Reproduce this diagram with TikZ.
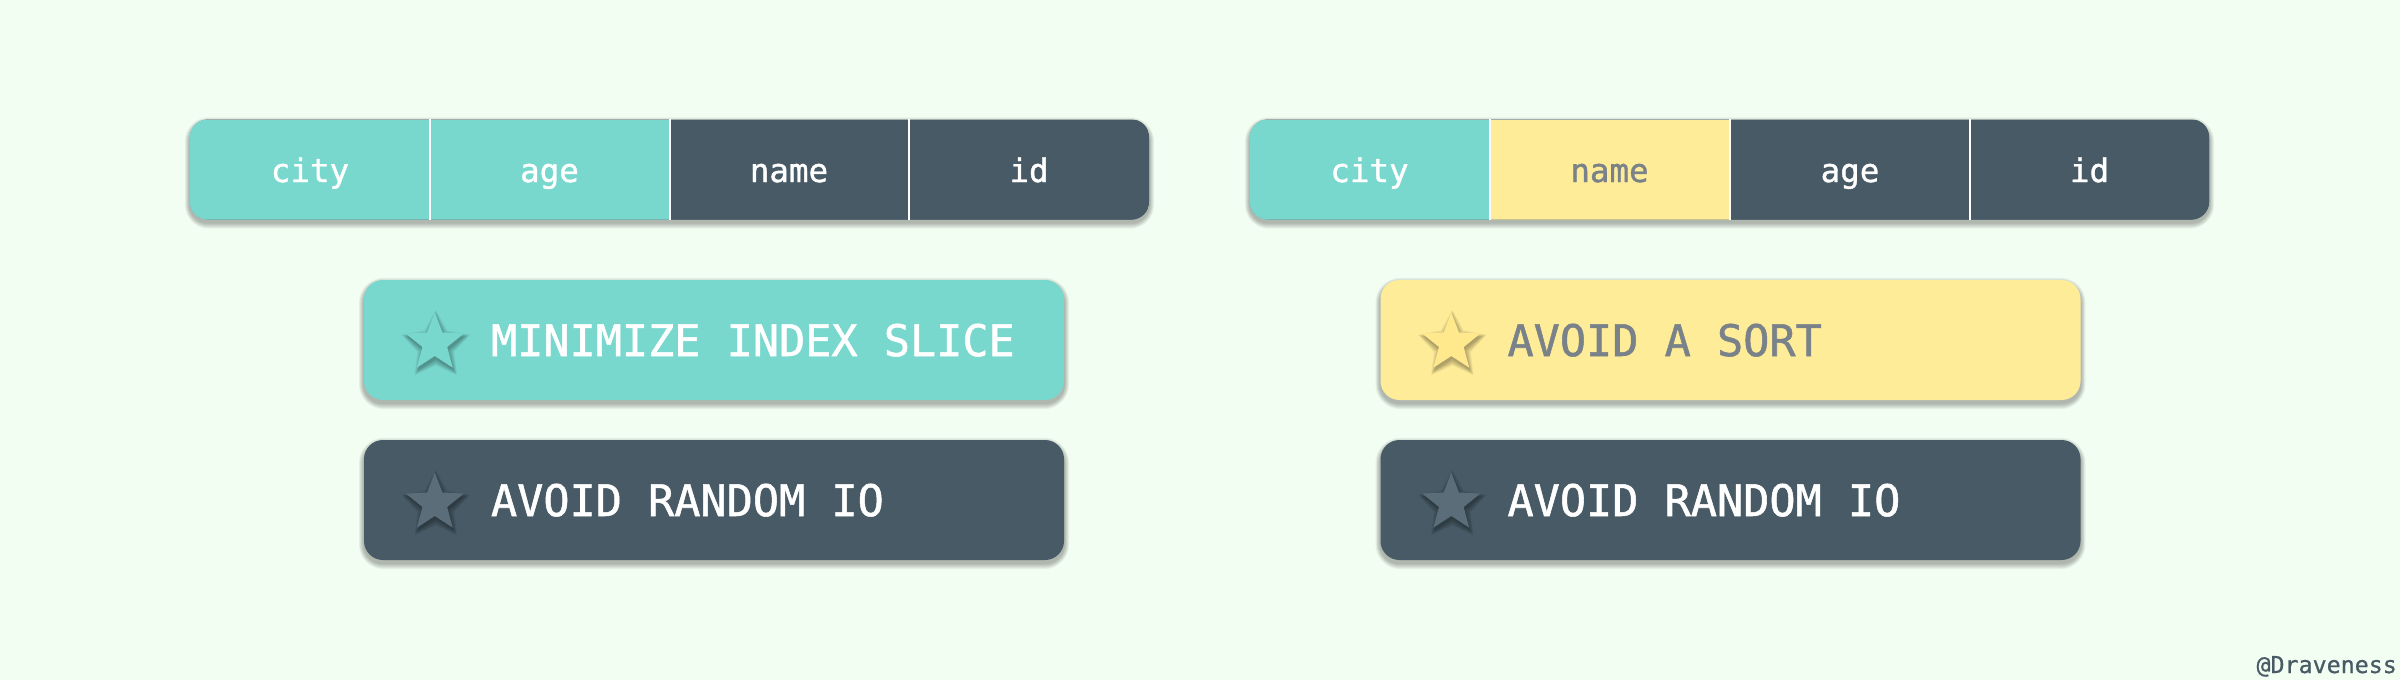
\documentclass[tikz,border=0pt]{standalone}
\usepackage{fontspec}
\newfontfamily\cellfont{DejaVu Sans Mono}[FakeBold=1.2]
\newfontfamily\sigfont{DejaVu Sans Mono}[FakeBold=0.8]
\definecolor{bgc}{HTML}{F3FEF3}
\definecolor{cteal}{HTML}{79D8CE}
\definecolor{cdark}{HTML}{475A65}
\definecolor{cyell}{HTML}{FFEC99}
\definecolor{cgray}{HTML}{7A8289}
\definecolor{stardark}{HTML}{5A6D79}
\definecolor{starteal}{HTML}{79D8CE}
\definecolor{staryell}{HTML}{FFE98C}
\pgfdeclarelayer{bgl}
\pgfdeclarelayer{shadowl}
\pgfdeclarelayer{cardl}
\pgfdeclarelayer{starshadowl}
\pgfsetlayers{bgl,shadowl,cardl,starshadowl,main}
\newcommand\boxshadow[2]{% #1 node, #2 corner radius
  \foreach \k in {1,...,6}{%
    \pgfmathsetmacro\rr{#2+\k}%
    \fill[black, opacity=0.05, rounded corners=\rr pt]
      ([xshift=-0.8*\k pt, yshift=-3pt-\k pt]#1.south west) rectangle
      ([xshift=0.8*\k pt, yshift=\k pt-4pt]#1.north east);}}
% star outline: #1 outer radius, #2 inner radius (y axis points down)
\newcommand\starpath[2]{(-90:#1) -- (-54:#2) -- (-18:#1) -- (18:#2) -- (54:#1) -- (90:#2) -- (126:#1) -- (162:#2) -- (198:#1) -- (234:#2) -- cycle}
\newcommand\starshadow[1]{% #1 star coordinate
  \foreach \k in {0,...,6}{%
    \pgfmathsetmacro\RR{29.5+1.1*\k}%
    \pgfmathsetmacro\ri{12.8+1.1*\k}%
    \fill[black, opacity=0.05, shift={(#1)}, xshift=1pt, yshift=-3pt] \starpath{\RR}{\ri};}}
\begin{document}
\begin{tikzpicture}[x=1pt,y=-1pt,
  cell/.style={rectangle, minimum width=240pt, minimum height=100pt, inner sep=0pt,
    text height=25pt, text depth=0pt, font=\cellfont\fontsize{32.5}{36}\selectfont},
  barbase/.style={rectangle, rounded corners=18pt, minimum width=959pt, minimum height=100pt,
    inner sep=0pt, fill=cdark},
  divider/.style={white, line width=2pt},
  card/.style={rectangle, rounded corners=19pt, minimum width=700pt, minimum height=120pt,
    inner sep=0pt},
  cardtext/.style={anchor=base west, inner sep=0pt, font=\cellfont\fontsize{43.5}{48}\selectfont},
]
\useasboundingbox (0,0) rectangle (2400,680);
\begin{pgfonlayer}{bgl}
\fill[bgc] (0,0) rectangle (2400,680);
\end{pgfonlayer}

% left bar
\begin{pgfonlayer}{cardl}
\node[barbase] (barL) at (669.5,169.5) {};
\begin{scope}
\clip[rounded corners=18pt] (barL.south west) rectangle (barL.north east);
\node[cell, fill=cteal, text=white] (l1) at (310,169.5) {city};
\node[cell, fill=cteal, text=white] (l2) at (549.5,169.5) {age};
\node[cell, fill=cdark, text=white] (l3) at (789,169.5) {name};
\node[cell, fill=cdark, text=white] (l4) at (1029,169.5) {id};
\end{scope}
\draw[divider] (l1.north east) -- (l1.south east);
\draw[divider] (l2.north east) -- (l2.south east);
\draw[divider] (l3.north east) -- (l3.south east);

% right bar
\node[barbase] (barR) at (1729.5,169.5) {};
\begin{scope}
\clip[rounded corners=18pt] (barR.south west) rectangle (barR.north east);
\node[cell, fill=cteal, text=white] (r1) at (1369.5,169.5) {city};
\node[cell, fill=cyell, text=cgray] (r2) at (1609.5,169.5) {name};
\node[cell, fill=cdark, text=white] (r3) at (1850,169.5) {age};
\node[cell, fill=cdark, text=white] (r4) at (2089.5,169.5) {id};
\end{scope}
\draw[divider] (r1.north east) -- (r1.south east);
\draw[divider] (r2.north east) -- (r2.south east);
\draw[divider] (r3.north east) -- (r3.south east);

% cards
\node[card, fill=cteal] (c1) at (714,340) {};
\node[card, fill=cdark] (c2) at (714,500) {};
\node[card, fill=cyell] (c3) at (1730.5,340) {};
\node[card, fill=cdark] (c4) at (1730.5,500) {};
\end{pgfonlayer}

\begin{pgfonlayer}{shadowl}
\boxshadow{barL}{18}
\boxshadow{barR}{18}
\boxshadow{c1}{19}
\boxshadow{c2}{19}
\boxshadow{c3}{19}
\boxshadow{c4}{19}
\end{pgfonlayer}

% stars
\coordinate (s1) at ([xshift=71pt,yshift=-3pt]c1.west);
\coordinate (s2) at ([xshift=71pt,yshift=-3pt]c2.west);
\coordinate (s3) at ([xshift=71pt,yshift=-3pt]c3.west);
\coordinate (s4) at ([xshift=71pt,yshift=-3pt]c4.west);
\fill[starteal, shift={(s1)}] \starpath{30.5}{13};
\fill[stardark, shift={(s2)}] \starpath{30.5}{13};
\fill[staryell, shift={(s3)}] \starpath{30.5}{13};
\fill[stardark, shift={(s4)}] \starpath{30.5}{13};

\begin{pgfonlayer}{starshadowl}
\starshadow{s1}
\starshadow{s2}
\starshadow{s3}
\starshadow{s4}
\end{pgfonlayer}

\node[cardtext, text=white] (t1) at ([xshift=127pt,yshift=-16pt]c1.west) {MINIMIZE INDEX SLICE};
\node[cardtext, text=white] (t2) at ([xshift=127pt,yshift=-16pt]c2.west) {AVOID RANDOM IO};
\node[cardtext, text=cgray] (t3) at ([xshift=127pt,yshift=-16pt]c3.west) {AVOID A SORT};
\node[cardtext, text=white] (t4) at ([xshift=127pt,yshift=-16pt]c4.west) {AVOID RANDOM IO};

\node[anchor=base east, inner sep=0pt, text=cdark, font=\sigfont\fontsize{23.3}{26}\selectfont] (sig) at (2397,673) {@Draveness};
\end{tikzpicture}
\end{document}
